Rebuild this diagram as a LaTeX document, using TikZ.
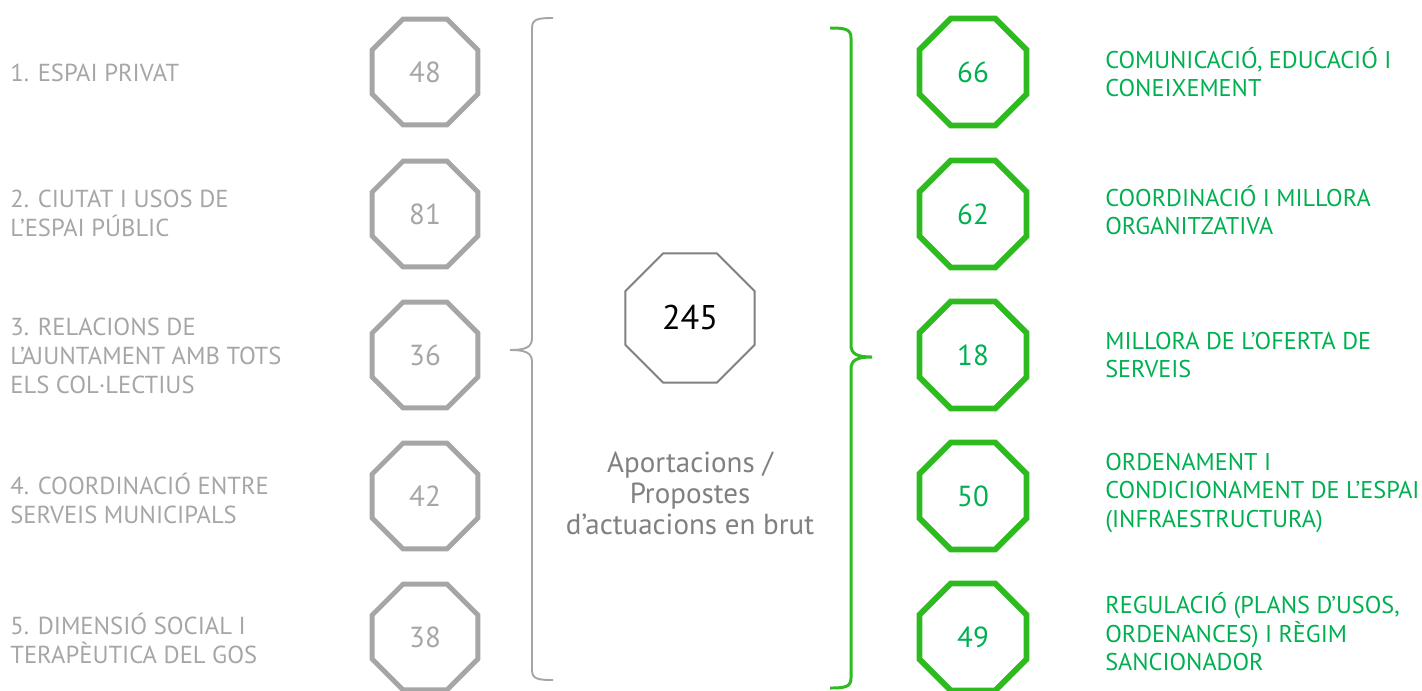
\documentclass[tikz,border=0pt]{standalone}
\usepackage{fontspec}
\setmainfont{PT Sans}
\usetikzlibrary{shapes.geometric}
\definecolor{softgray}{HTML}{A6A6A6}
\definecolor{midgray}{HTML}{808080}
\definecolor{octgreen}{HTML}{2EBB1F}
\definecolor{txtgreen}{HTML}{00B050}
\begin{document}
\begin{tikzpicture}[x=0.02cm, y=-0.02cm,
    oct/.style={regular polygon, regular polygon sides=8, inner sep=0pt},
    grayoct/.style={oct, draw=softgray, line width=2.8pt, minimum size=2.29cm,
      text=softgray, font=\fontsize{16.5}{18}\selectfont},
    greenoct/.style={oct, draw=octgreen, line width=3.3pt, minimum size=2.32cm,
      text=txtgreen, font=\fontsize{16.5}{18}\selectfont},
    graylabel/.style={anchor=west, align=left, text=softgray, inner sep=0pt,
      font=\fontsize{14}{16.5}\selectfont},
    greenlabel/.style={anchor=west, align=left, text=txtgreen, inner sep=0pt,
      font=\fontsize{13.8}{16.2}\selectfont}]
  \useasboundingbox (0,0) rectangle (1422,690);
  % Left octagons
  \node[grayoct] (l1) at (425,72) {48};
  \node[grayoct] (l2) at (425,214) {81};
  \node[grayoct] (l3) at (425,355) {36};
  \node[grayoct] (l4) at (425,496) {42};
  \node[grayoct] (l5) at (425,637) {38};
  % Left labels
  \node[graylabel] (lt1) at (10,73) {1. ESPAI PRIVAT};
  \node[graylabel] (lt2) at (10,213) {2. CIUTAT I USOS DE\\L’ESPAI PÚBLIC};
  \node[graylabel] (lt3) at (10,356) {3. RELACIONS DE\\L’AJUNTAMENT AMB TOTS\\ELS COL·LECTIUS};
  \node[graylabel] (lt4) at (10,498) {4. COORDINACIÓ ENTRE\\SERVEIS MUNICIPALS};
  \node[graylabel] (lt5) at (10,638) {5. DIMENSIÓ SOCIAL I\\TERAPÈUTICA DEL GOS};
  % Centre
  \node[oct, draw=midgray, line width=1.1pt, minimum size=2.8cm,
    font=\fontsize{19.5}{22}\selectfont] (tot) at (690,318) {245};
  \node[align=center, text=midgray, font=\fontsize{16.5}{17.6}\selectfont]
    (desc) at (690,493) {Aportacions /\\Propostes\\d’actuacions en brut};
  % Braces
  \draw[softgray, line width=1.1pt]
    (553,18) .. controls (538,18) and (532,19) .. (532,28) -- (532,338)
    .. controls (532,347) and (526,350) .. (510,350)
    .. controls (526,350) and (532,353) .. (532,362) -- (532,670)
    .. controls (532,679) and (538,680) .. (553,680);
  \draw[octgreen, line width=1.7pt]
    (830,28) .. controls (845,28) and (851,29) .. (851,38) -- (851,345)
    .. controls (851,354) and (857,357) .. (872,357)
    .. controls (857,357) and (851,360) .. (851,369) -- (851,678)
    .. controls (851,687) and (845,688) .. (830,688);
  % Right octagons
  \node[greenoct] (r1) at (973,72) {66};
  \node[greenoct] (r2) at (973,214) {62};
  \node[greenoct] (r3) at (973,355) {18};
  \node[greenoct] (r4) at (973,496) {50};
  \node[greenoct] (r5) at (973,637) {49};
  % Right labels
  \node[greenlabel] (rt1) at (1105,72) {COMUNICACIÓ, EDUCACIÓ I\\CONEIXEMENT};
  \node[greenlabel] (rt2) at (1105,210) {COORDINACIÓ I MILLORA\\ORGANITZATIVA};
  \node[greenlabel] (rt3) at (1105,355) {MILLORA DE L’OFERTA DE\\SERVEIS};
  \node[greenlabel] (rt4) at (1105,493) {ORDENAMENT I\\CONDICIONAMENT DE L’ESPAI\\(INFRAESTRUCTURA)};
  \node[greenlabel] (rt5) at (1105,632) {REGULACIÓ (PLANS D’USOS,\\ORDENANCES) I RÈGIM\\SANCIONADOR};
\end{tikzpicture}
\end{document}
